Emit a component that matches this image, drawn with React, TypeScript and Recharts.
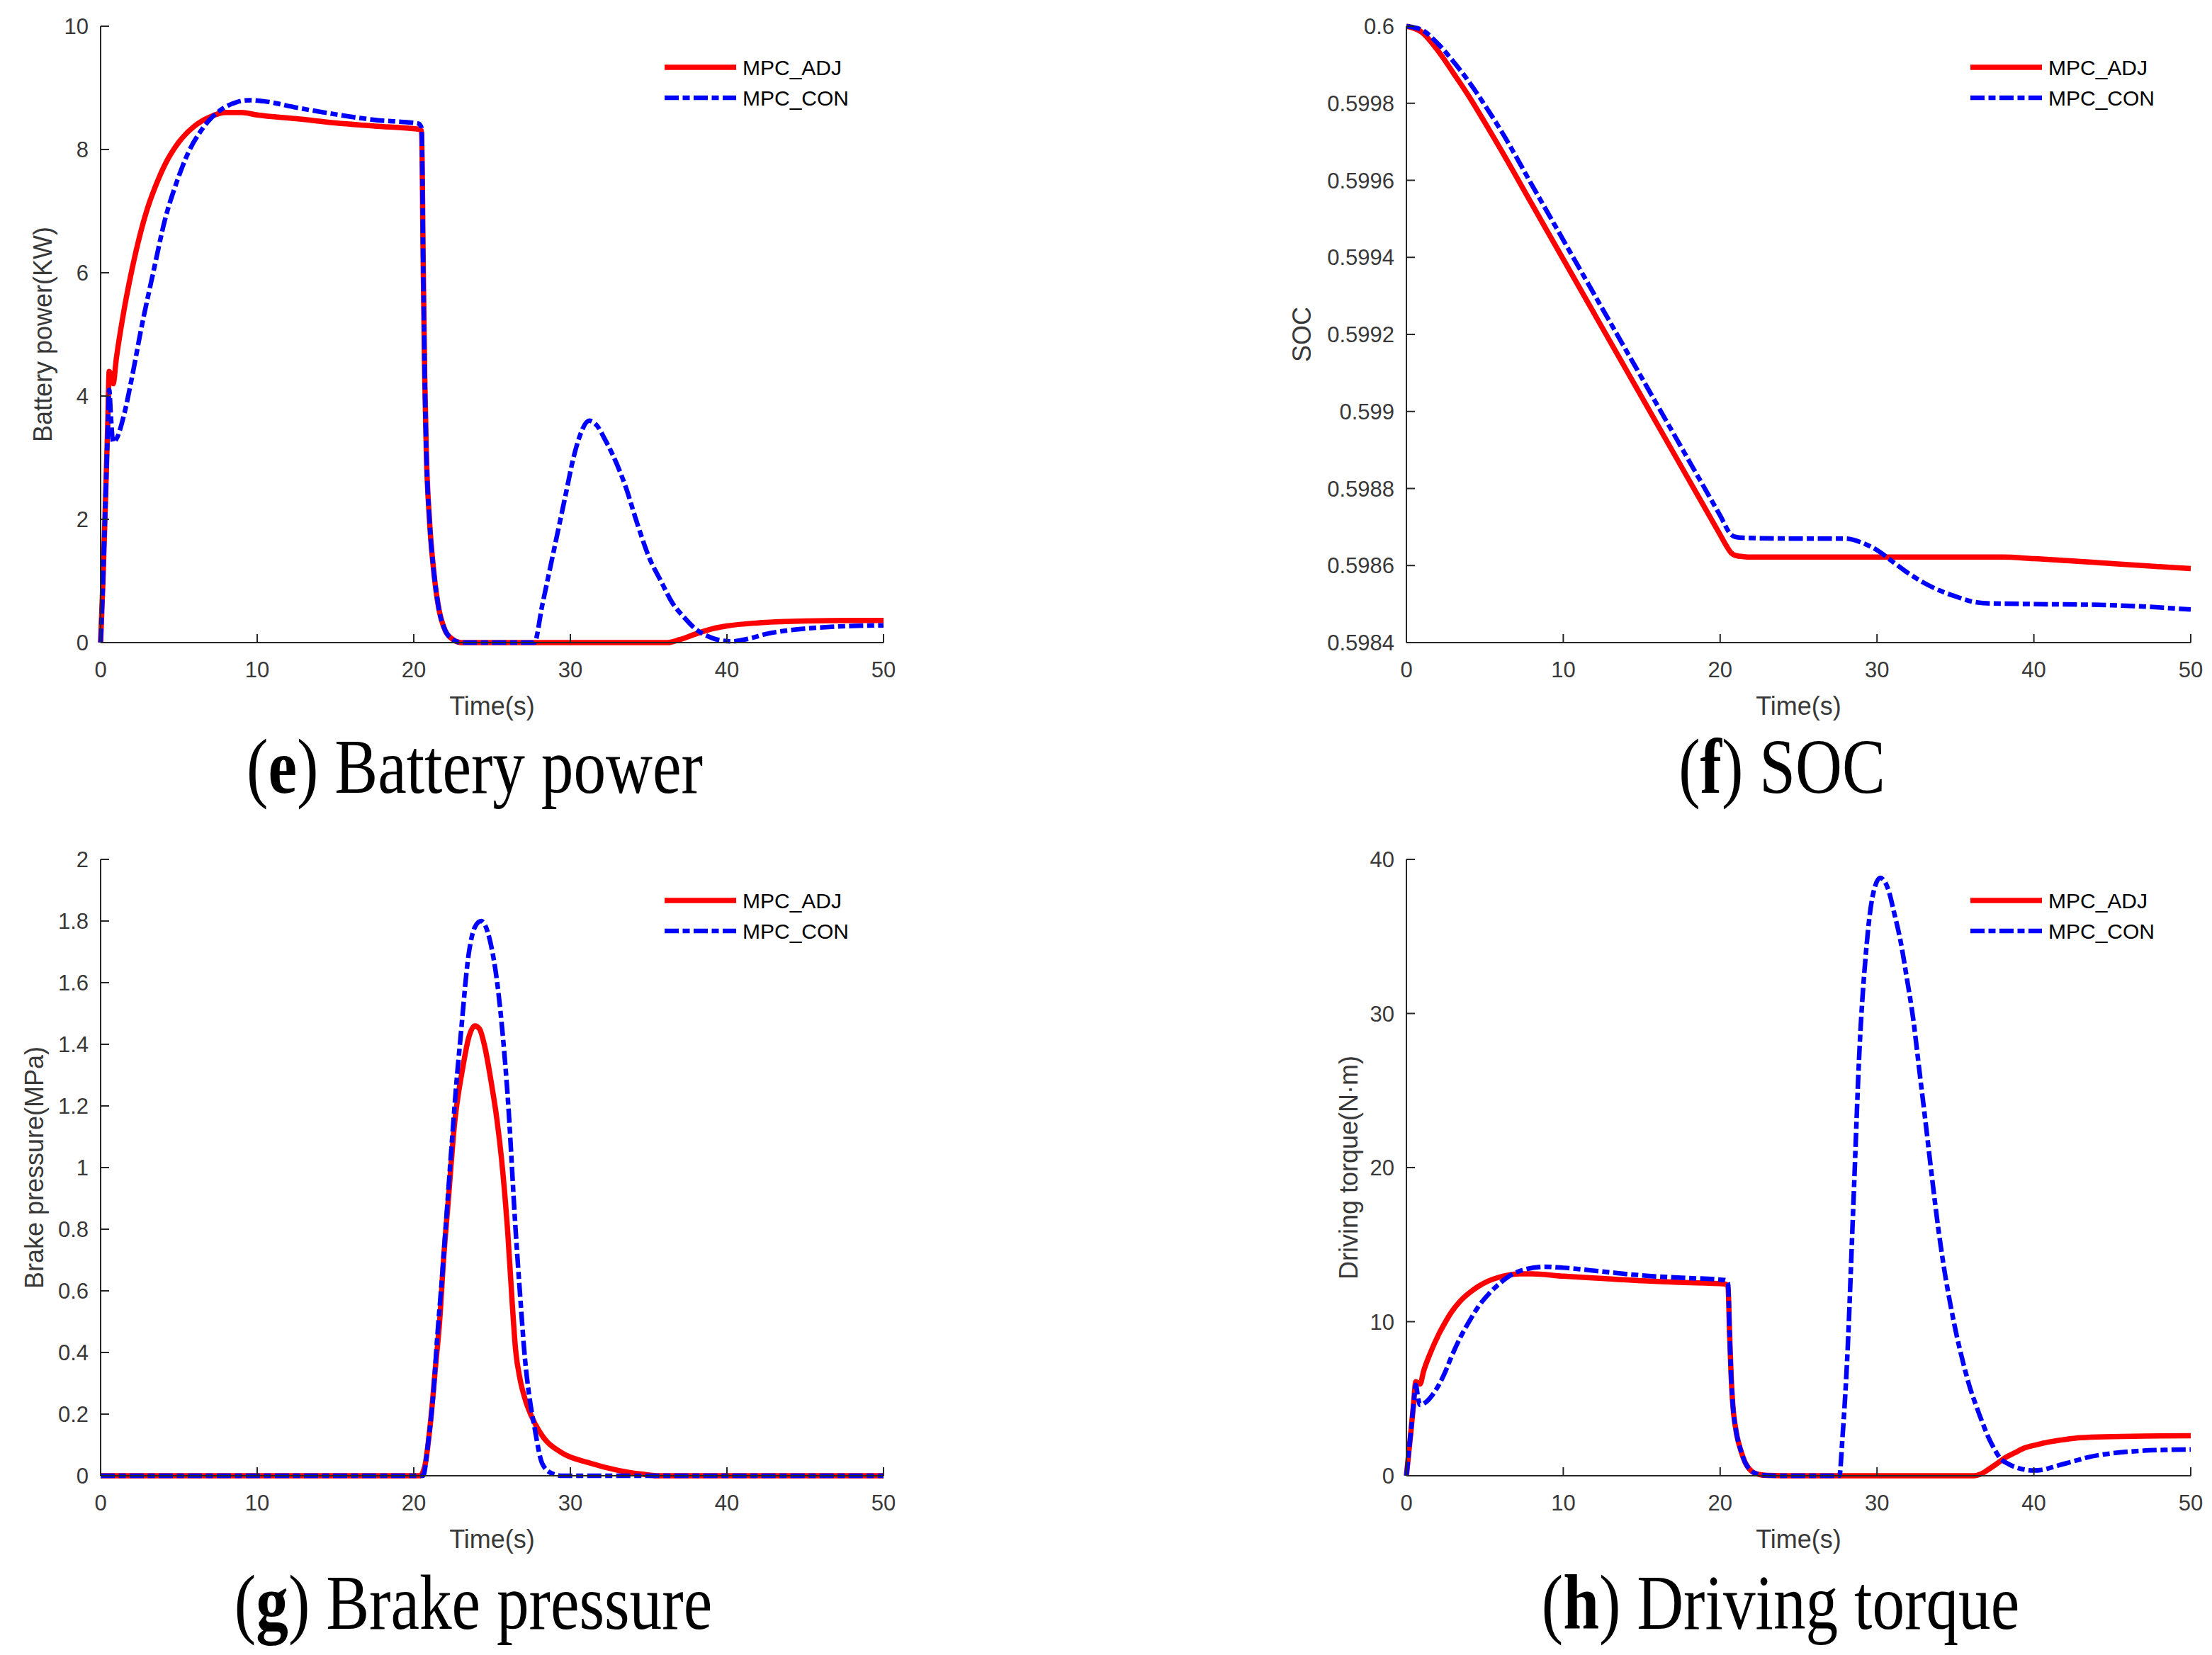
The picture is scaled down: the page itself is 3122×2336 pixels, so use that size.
import React from 'react';
import { LineChart, Line, XAxis, YAxis, Legend } from 'recharts';

// ---------- shared ticks ----------
const timeTicks = [0, 10, 20, 30, 40, 50];
const timeTickLabels = ['0', '10', '20', '30', '40', '50'];

const powerTicks = [0, 2, 4, 6, 8, 10];
const powerTickLabels = ['0', '2', '4', '6', '8', '10'];

const socTicks = [0.5984, 0.5986, 0.5988, 0.599, 0.5992, 0.5994, 0.5996, 0.5998, 0.6];
const socTickLabels = ['0.5984', '0.5986', '0.5988', '0.599', '0.5992', '0.5994', '0.5996', '0.5998', '0.6'];

const brakeTicks = [0, 0.2, 0.4, 0.6, 0.8, 1, 1.2, 1.4, 1.6, 1.8, 2];
const brakeTickLabels = ['0', '0.2', '0.4', '0.6', '0.8', '1', '1.2', '1.4', '1.6', '1.8', '2'];

const torqueTicks = [0, 10, 20, 30, 40];
const torqueTickLabels = ['0', '10', '20', '30', '40'];

const seriesNames = ['MPC_ADJ', 'MPC_CON'];

// ---------- (e) battery power ----------
const batAdjT = [0, 0.15, 0.3, 0.45, 0.55, 0.65, 0.8, 1.0, 1.5, 2.0, 2.5, 3.0, 3.5, 4.1, 5.0, 6.0, 7.0, 8.0, 9.0, 10, 12.5, 15, 17.5, 20.3, 20.5, 20.6, 20.7, 20.8, 21.0, 21.3, 21.6, 22.0, 22.5, 23.0, 36.2, 37, 38, 39, 40, 42, 45, 48, 50];
const batAdjV = [0, 1.0, 2.2, 3.5, 4.4, 4.35, 4.2, 4.6, 5.4, 6.05, 6.6, 7.05, 7.4, 7.75, 8.12, 8.38, 8.53, 8.6, 8.6, 8.56, 8.5, 8.43, 8.38, 8.33, 8.3, 6.2, 4.3, 3.1, 2.0, 1.1, 0.55, 0.2, 0.05, 0, 0, 0.05, 0.14, 0.22, 0.27, 0.32, 0.35, 0.36, 0.36];
const batConT = [0, 0.15, 0.3, 0.45, 0.55, 0.65, 0.8, 1.0, 1.5, 2.0, 2.6, 3.4, 4.1, 4.9, 5.6, 6.4, 7.1, 7.9, 8.7, 9.5, 10.5, 12.5, 15, 17.5, 20.3, 20.5, 20.6, 20.7, 20.8, 21.0, 21.3, 21.6, 22.0, 22.5, 23.0, 27.7, 28.2, 28.7, 29.2, 29.7, 30.2, 30.6, 31.2, 31.7, 32.2, 32.7, 33.5, 34.3, 35.0, 35.8, 36.5, 37.3, 38.0, 38.8, 39.5, 40.3, 41.5, 42.5, 44, 46.3, 48, 50];
const batConV = [0, 1.0, 2.2, 3.4, 4.1, 3.7, 3.25, 3.3, 3.7, 4.3, 5.1, 6.05, 6.85, 7.5, 7.95, 8.3, 8.52, 8.68, 8.77, 8.8, 8.78, 8.68, 8.57, 8.48, 8.42, 8.35, 6.2, 4.3, 3.1, 2.0, 1.1, 0.55, 0.2, 0.05, 0, 0, 0.6, 1.2, 1.8, 2.4, 3.0, 3.35, 3.6, 3.52, 3.3, 3.05, 2.55, 1.91, 1.4, 0.99, 0.65, 0.4, 0.22, 0.1, 0.04, 0.02, 0.07, 0.14, 0.2, 0.25, 0.27, 0.28];

// ---------- (f) SOC ----------
const socAdjT = [0, 1, 2, 3, 4, 5, 6, 8, 10, 12, 14, 16, 18, 20, 20.4, 20.7, 21.0, 21.5, 22, 30, 38, 40, 45, 50];
const socAdjV = [0.6, 0.599984, 0.599937, 0.599878, 0.599817, 0.59975, 0.599681, 0.599538, 0.599395, 0.599252, 0.599109, 0.598966, 0.598823, 0.59868, 0.598651, 0.598633, 0.598626, 0.598623, 0.598622, 0.598622, 0.598622, 0.598618, 0.598605, 0.598592];
const socConT = [0, 1, 2, 3, 4, 5, 6, 8, 10, 12, 14, 16, 18, 20, 20.7, 21.0, 21.5, 25, 28, 29, 30, 31, 32, 33, 34, 35, 36, 37, 40, 45, 50];
const socConV = [0.6, 0.59999, 0.599955, 0.599908, 0.599855, 0.599795, 0.599731, 0.599588, 0.599445, 0.599302, 0.599159, 0.599016, 0.598873, 0.59873, 0.59868, 0.598674, 0.598672, 0.59867, 0.59867, 0.59866, 0.59864, 0.59861, 0.59858, 0.598555, 0.598535, 0.59852, 0.598507, 0.598502, 0.5985, 0.598497, 0.598486];

// ---------- (g) brake pressure ----------
const brakeAdjT = [0, 20.4, 20.7, 21.08, 21.4, 21.65, 21.9, 22.2, 22.6, 23.15, 23.5, 23.9, 24.2, 24.5, 25.0, 25.3, 25.6, 26.0, 26.3, 26.5, 26.8, 27.1, 27.5, 28.2, 29.4, 31.2, 33.1, 34.6, 35.5, 50];
const brakeAdjV = [0, 0, 0.03, 0.18, 0.36, 0.5, 0.7, 0.89, 1.14, 1.33, 1.42, 1.46, 1.45, 1.4, 1.26, 1.16, 1.03, 0.79, 0.55, 0.41, 0.31, 0.25, 0.195, 0.13, 0.076, 0.042, 0.017, 0.005, 0, 0];
const brakeConT = [0, 20.6, 20.9, 21.27, 21.5, 21.8, 22.1, 22.4, 22.7, 23.0, 23.5, 23.9, 24.3, 24.85, 25.4, 25.7, 26.0, 26.5, 26.8, 27.1, 27.4, 27.7, 28.2, 28.8, 29.5, 50];
const brakeConV = [0, 0, 0.1, 0.28, 0.45, 0.64, 0.85, 1.06, 1.26, 1.43, 1.69, 1.78, 1.8, 1.74, 1.57, 1.42, 1.23, 0.8, 0.58, 0.38, 0.25, 0.16, 0.04, 0.008, 0, 0];

// ---------- (h) driving torque ----------
const torqueAdjT = [0, 0.15, 0.3, 0.45, 0.6, 0.75, 0.87, 1.1, 1.5, 2.07, 2.5, 2.86, 3.4, 4.05, 4.6, 5.25, 5.8, 6.4, 7.2, 8.0, 10, 12.5, 15, 17.5, 20.3, 20.5, 20.6, 20.7, 20.8, 21.0, 21.3, 21.6, 22.0, 22.5, 23, 24, 36.2, 36.6, 37.0, 37.6, 38.2, 38.8, 39.4, 40.2, 41.0, 42, 43, 45, 47, 50];
const torqueAdjV = [0, 1.5, 3.0, 4.6, 6.1, 6.0, 5.95, 6.8, 7.9, 9.2, 10.0, 10.6, 11.3, 11.9, 12.3, 12.65, 12.85, 13.0, 13.1, 13.1, 12.95, 12.8, 12.65, 12.55, 12.45, 12.3, 9.3, 6.5, 4.7, 3.0, 1.7, 0.85, 0.3, 0.08, 0.02, 0, 0, 0.1, 0.34, 0.75, 1.19, 1.5, 1.8, 2.02, 2.2, 2.36, 2.47, 2.54, 2.58, 2.6];
const torqueConT = [0, 0.15, 0.3, 0.45, 0.6, 0.75, 0.87, 1.27, 1.7, 2.07, 2.5, 2.86, 3.4, 4.05, 4.6, 5.25, 5.8, 6.4, 7.0, 7.6, 8.8, 10, 12.5, 15, 17.5, 20.3, 20.5, 20.6, 20.7, 20.8, 21.0, 21.3, 21.6, 22, 22.5, 23, 24, 27.6, 27.8, 28.1, 28.5, 28.9, 29.3, 29.7, 30.2, 30.7, 31.1, 31.5, 31.9, 32.3, 32.7, 33.1, 33.5, 33.9, 34.3, 34.7, 35.1, 35.5, 35.9, 36.3, 36.7, 37.1, 37.5, 37.8, 38.4, 39.0, 39.5, 40.0, 40.5, 41.0, 41.6, 42.2, 42.8, 43.4, 44.2, 45, 46, 47, 48.5, 50];
const torqueConV = [0, 1.5, 3.0, 4.6, 5.9, 5.0, 4.6, 4.8, 5.3, 5.9, 6.8, 7.7, 8.9, 10.1, 11.0, 11.8, 12.35, 12.85, 13.2, 13.4, 13.56, 13.5, 13.25, 13.0, 12.85, 12.7, 12.5, 9.3, 6.5, 4.7, 3.0, 1.7, 0.85, 0.3, 0.08, 0.02, 0, 0, 2.5, 7.6, 17.8, 28, 34, 37.5, 38.8, 38.1, 36.5, 34.7, 32.3, 29.7, 26.3, 22.9, 19.4, 16.1, 13.3, 11, 9.0, 7.3, 5.8, 4.6, 3.5, 2.5, 1.7, 1.2, 0.75, 0.5, 0.38, 0.34, 0.38, 0.5, 0.68, 0.85, 1.02, 1.19, 1.35, 1.46, 1.56, 1.63, 1.68, 1.7];

// ---------- style constants ----------
const SANS = '"Liberation Sans", Arial, Helvetica, sans-serif';
const SERIF = '"Liberation Serif", "Times New Roman", serif';
const AX = '#262626';
const TXT = '#383838';
const RED = '#ff0000';
const BLUE = '#0000ff';
const DASH = '20 5.5 10 5.5';
const XM = 38;
const YM = 17;
const TICK_LEN = 12;
const TICK_FS = 31;
const LABEL_FS = 36;

const zip = (ts: number[], vs: number[]) => ts.map((t, i) => ({ t, v: vs[i] }));

const findLabel = (ticks: number[], labels: string[], value: number) => {
  let best = 0;
  for (let i = 0; i < ticks.length; i++) {
    if (Math.abs(ticks[i] - value) < Math.abs(ticks[best] - value)) best = i;
  }
  return labels[best];
};

const XTick = (props: any) => {
  const { x, y, payload } = props;
  const axisY = y - XM;
  return (
    <g>
      <line x1={x} x2={x} y1={axisY} y2={axisY - TICK_LEN} stroke={AX} strokeWidth={2} />
      <text x={x} y={y} dy="0.355em" textAnchor="middle" fontSize={TICK_FS} fill={TXT} fontFamily={SANS}>
        {findLabel(timeTicks, timeTickLabels, payload.value)}
      </text>
    </g>
  );
};

const makeYTick = (ticks: number[], labels: string[]) => (props: any) => {
  const { x, y, payload } = props;
  const axisX = x + YM;
  return (
    <g>
      <line x1={axisX} x2={axisX + TICK_LEN} y1={y} y2={y} stroke={AX} strokeWidth={2} />
      <text x={x} y={y} dy="0.355em" textAnchor="end" fontSize={TICK_FS} fill={TXT} fontFamily={SANS}>
        {findLabel(ticks, labels, payload.value)}
      </text>
    </g>
  );
};

const AxisText = (props: any) => {
  const { px, py, text, rotate } = props;
  return (
    <text
      x={px}
      y={py}
      dy="0.355em"
      textAnchor="middle"
      fontSize={LABEL_FS}
      fill={TXT}
      fontFamily={SANS}
      transform={rotate ? `rotate(-90 ${px} ${py})` : undefined}
    >
      {text}
    </text>
  );
};

const LegendContent = () => (
  <svg width={340} height={100} style={{ display: 'block', overflow: 'visible' }}>
    <line x1={0} x2={101} y1={20} y2={20} stroke={RED} strokeWidth={7.5} />
    <text x={110} y={20} dy="0.355em" fontSize={30} fill="#000" fontFamily={SANS}>{seriesNames[0]}</text>
    <line x1={0} x2={101} y1={63} y2={63} stroke={BLUE} strokeWidth={6.5} strokeDasharray={DASH} />
    <text x={110} y={63} dy="0.355em" fontSize={30} fill="#000" fontFamily={SANS}>{seriesNames[1]}</text>
  </svg>
);

type PanelProps = {
  left: number;
  top: number;
  width: number;
  height: number;
  plotLeft: number;
  plotTop: number;
  plotRight: number;
  plotBottom: number;
  yDomain: [number, number];
  yTicks: number[];
  yTickLabels: string[];
  yLabel: string;
  yLabelOffset: number;
  adj: { t: number; v: number }[];
  con: { t: number; v: number }[];
};

const Panel = (p: PanelProps) => {
  const margin = { top: p.plotTop, right: p.width - p.plotRight, left: 0, bottom: 0 };
  const YTick = makeYTick(p.yTicks, p.yTickLabels);
  return (
    <div style={{ position: 'absolute', left: p.left, top: p.top, width: p.width, height: p.height }}>
      <LineChart width={p.width} height={p.height} margin={margin}>
        <XAxis
          type="number"
          dataKey="t"
          domain={[0, 50]}
          ticks={timeTicks}
          interval={0}
          height={p.height - p.plotBottom}
          tickSize={0}
          tickMargin={XM}
          tickLine={false}
          axisLine={{ stroke: AX, strokeWidth: 2 }}
          tick={<XTick />}
          label={<AxisText px={(p.plotLeft + p.plotRight) / 2} py={p.plotBottom + 89} text="Time(s)" />}
        />
        <YAxis
          type="number"
          domain={p.yDomain}
          ticks={p.yTicks}
          interval={0}
          width={p.plotLeft}
          tickSize={0}
          tickMargin={YM}
          tickLine={false}
          axisLine={{ stroke: AX, strokeWidth: 2 }}
          tick={YTick}
          label={<AxisText px={p.plotLeft - p.yLabelOffset} py={(p.plotTop + p.plotBottom) / 2} text={p.yLabel} rotate />}
        />
        <Legend
          layout="horizontal"
          verticalAlign="middle"
          align="center"
          content={LegendContent}
          wrapperStyle={{ left: p.plotLeft + 796, top: p.plotTop + 38, width: 340, height: 100 }}
        />
        <Line
          data={p.adj}
          dataKey="v"
          name={seriesNames[0]}
          type="monotone"
          stroke={RED}
          strokeWidth={7.5}
          dot={false}
          activeDot={false}
          isAnimationActive={false}
        />
        <Line
          data={p.con}
          dataKey="v"
          name={seriesNames[1]}
          type="monotone"
          stroke={BLUE}
          strokeWidth={6.5}
          strokeDasharray={DASH}
          dot={false}
          activeDot={false}
          isAnimationActive={false}
        />
      </LineChart>
    </div>
  );
};

const Caption = ({ cx, by, letter, text }: { cx: number; by: number; letter: string; text: string }) => (
  <text
    transform={`translate(${cx} ${by}) scale(0.83 1)`}
    textAnchor="middle"
    fontSize={110}
    fill="#000"
    fontFamily={SERIF}
  >
    (<tspan fontWeight="bold">{letter}</tspan>) {text}
  </text>
);

export default function App() {
  return (
    <div style={{ position: 'absolute', left: 0, top: 0, width: 3122, height: 2336, background: '#fff', overflow: 'hidden' }}>
      <Panel
        left={0}
        top={0}
        width={1561}
        height={1168}
        plotLeft={142}
        plotTop={37}
        plotRight={1247}
        plotBottom={907}
        yDomain={[0, 10]}
        yTicks={powerTicks}
        yTickLabels={powerTickLabels}
        yLabel="Battery power(KW)"
        yLabelOffset={82}
        adj={zip(batAdjT, batAdjV)}
        con={zip(batConT, batConV)}
      />
      <Panel
        left={1561}
        top={0}
        width={1561}
        height={1168}
        plotLeft={424}
        plotTop={37}
        plotRight={1531}
        plotBottom={907}
        yDomain={[0.5984, 0.6]}
        yTicks={socTicks}
        yTickLabels={socTickLabels}
        yLabel="SOC"
        yLabelOffset={148}
        adj={zip(socAdjT, socAdjV)}
        con={zip(socConT, socConV)}
      />
      <Panel
        left={0}
        top={1168}
        width={1561}
        height={1168}
        plotLeft={142}
        plotTop={45}
        plotRight={1247}
        plotBottom={915}
        yDomain={[0, 2]}
        yTicks={brakeTicks}
        yTickLabels={brakeTickLabels}
        yLabel="Brake pressure(MPa)"
        yLabelOffset={94}
        adj={zip(brakeAdjT, brakeAdjV)}
        con={zip(brakeConT, brakeConV)}
      />
      <Panel
        left={1561}
        top={1168}
        width={1561}
        height={1168}
        plotLeft={424}
        plotTop={45}
        plotRight={1531}
        plotBottom={915}
        yDomain={[0, 40]}
        yTicks={torqueTicks}
        yTickLabels={torqueTickLabels}
        yLabel="Driving torque(N·m)"
        yLabelOffset={82}
        adj={zip(torqueAdjT, torqueAdjV)}
        con={zip(torqueConT, torqueConV)}
      />
      <svg width={3122} height={2336} style={{ position: 'absolute', left: 0, top: 0, pointerEvents: 'none' }}>
        <Caption cx={670} by={1119} letter="e" text="Battery power" />
        <Caption cx={2515} by={1119} letter="f" text="SOC" />
        <Caption cx={668} by={2299} letter="g" text="Brake pressure" />
        <Caption cx={2513} by={2299} letter="h" text="Driving torque" />
      </svg>
    </div>
  );
}
